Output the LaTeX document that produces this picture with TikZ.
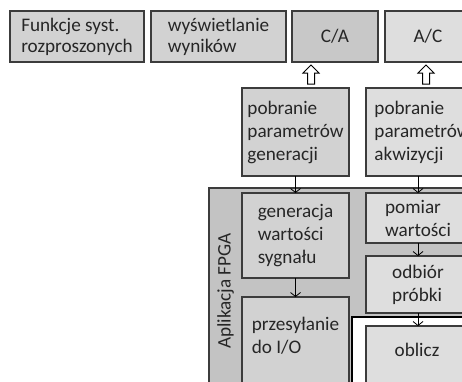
\documentclass[tikz,border=0pt]{standalone}
\usepackage{fontspec}
\setmainfont{Carlito}
\usetikzlibrary{arrows.meta}
\definecolor{gmid}{HTML}{D2D2D2}
\definecolor{gca}{HTML}{C8C8C8}
\definecolor{glight}{HTML}{DEDEDE}
\definecolor{gfpga}{HTML}{C3C3C3}
\definecolor{gline}{HTML}{3C3C3C}
\tikzset{
  box/.style={draw=gline, line width=1.2pt, inner sep=0pt, outer sep=0pt, align=left,
    font=\fontsize{19.2}{23}\selectfont, text=black!85},
  topbox/.style={box, font=\fontsize{19.2}{21}\selectfont},
  txt/.style={inner sep=0pt, align=left, font=\fontsize{19.2}{23}\selectfont, text=black!85},
  flow/.style={draw=black, line width=0.8pt, -{Straight Barb[length=4pt,width=10pt,line width=0.8pt]}},
  hollow/.style={draw=black, fill=white, line width=1pt, line join=miter}
}
\begin{document}
\begin{tikzpicture}[x=1pt,y=-1pt]
\useasboundingbox (0,0) rectangle (462,381);
\clip (0,0) rectangle (462,381);
\fill[white] (0,0) rectangle (462,381);
% top row
\node[topbox, fill=gmid, minimum width=134pt, minimum height=51pt] (f1) at (77,36.5) {Funkcje syst.\\rozproszonych};
\node[topbox, fill=gmid, minimum width=135pt, minimum height=51pt] (f2) at (218.5,36.5) {wyświetlanie\\wyników};
\node[topbox, fill=gca, minimum width=86pt, minimum height=51pt] (ca) at (335,36.5) {C/A};
\node[topbox, fill=glight, minimum width=86pt, minimum height=51pt] (ac) at (428,36.5) {A/C};
% hollow arrows
\coordinate (h1) at (311,65);
\coordinate (h2) at (426,65);
\foreach \h in {h1,h2}{
  \draw[hollow] (\h) -- ++(8,8) -- ++(-4.5,0) -- ++(0,11) -- ++(-7,0) -- ++(0,-11) -- ++(-4.5,0) -- cycle;
}
% second row
\node[box, fill=gmid, minimum width=107pt, minimum height=88pt] (pg) at (295.5,132) {pobranie\\parametrów\\generacji};
\node[box, fill=glight, minimum width=113pt, minimum height=88pt] (pa) at (422.5,132) {pobranie\\parametrów\\akwizycji};
% FPGA region
\node[box, fill=gfpga, anchor=north west, minimum width=300pt, minimum height=250pt] (fpga) at (209,188) {};
\node[txt, rotate=90] (fpgalbl) at (225.5,291) {Aplikacja FPGA};
\node[box, fill=gmid, minimum width=107pt, minimum height=85pt] (gen) at (295.5,235.5) {generacja\\wartości\\sygnału};
\node[box, fill=gmid, anchor=north west, minimum width=107pt, minimum height=150pt] (prz) at (242,297) {};
\node[txt] (przlbl) at (295.5,336) {przesyłanie\\do I/O};
\node[box, fill=glight, minimum width=104pt, minimum height=50pt] (pom) at (418,218) {pomiar\\wartości};
\node[box, fill=glight, minimum width=104pt, minimum height=57pt] (odb) at (418,284.5) {odbiór\\próbki};
\node[box, draw=black, fill=white, anchor=north west, minimum width=160pt, minimum height=150pt] (wht) at (352,317) {};
\node[box, fill=glight, anchor=north west, minimum width=104pt, minimum height=150pt] (obl) at (366,326) {};
\node[txt] (obllbl) at (417,350) {oblicz};
% flow arrows
\draw[flow] (pg.south) -- (gen.north);
\draw[flow] (gen.south) -- (prz.north -| gen.south);
\draw[flow] (pa.south -| pom.north) -- (pom.north);
\draw[flow] (pom.south) -- (odb.north);
\draw[flow] (odb.south) -- (obl.north -| odb.south);
\end{tikzpicture}
\end{document}
